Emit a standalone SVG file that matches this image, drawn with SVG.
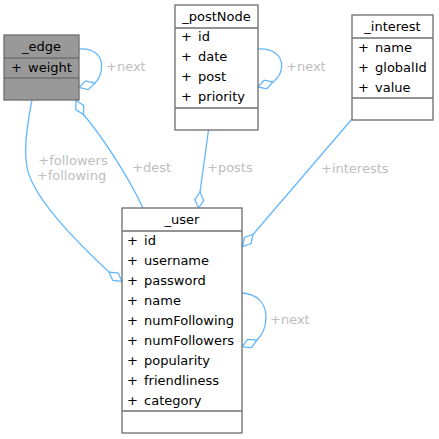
<svg xmlns="http://www.w3.org/2000/svg" width="439" height="439" viewBox="0 0 439 439">
<style>
text{font-family:"DejaVu Sans","Liberation Sans",sans-serif;font-size:13px;fill:#000}
.box{fill:#fff;stroke:#707070;stroke-width:1.33}
.cur{fill:#999}
.sep{stroke:#707070;stroke-width:1.33}
.t{text-anchor:middle}
.e{fill:none;stroke:#63b8ff;stroke-width:1.3}
.d{fill:#fff;stroke:#63b8ff;stroke-width:1.3}
.lbl{fill:#bebebe}
</style>
<rect width="439" height="439" fill="#fff"/>
<g id="connectors">
<path class="e" d="M79,49 C93,48 102,55 101.7,66 C101.5,74 99,79 95,83"/>
<polygon class="d" points="79,87.5 85.8,80.9 95,83 88.2,89.6"/>
<text class="lbl" x="106" y="71">+next</text>
<path class="e" d="M258,49 C272,48 282,55 281.7,66 C281.5,74 277,79 273,82"/>
<polygon class="d" points="258,87 264.1,80.2 273,82 266.9,88.8"/>
<text class="lbl" x="286" y="71">+next</text>
<path class="e" d="M242,293 C257,294 266,303 266,317 C266,327 262,335 257,340"/>
<polygon class="d" points="242,347 247.6,339.4 257,340 251.4,347.6"/>
<text class="lbl" x="270" y="324">+next</text>
<path class="e" d="M32,100 C24,140 23,165 32,182 C45,210 80,245 109,272"/>
<polygon class="d" points="122,281.5 118.2,273.1 109,272 112.8,280.4"/>
<text class="lbl t" x="73" y="165">+followers</text>
<text class="lbl t" x="71.5" y="180">+following</text>
<path class="e" d="M143,208 C130,180 105,140 83.5,114.5"/>
<polygon class="d" points="76,100.5 83.7,105.4 83.5,114.5 75.8,109.6"/>
<text class="lbl" x="132" y="172">+dest</text>
<path class="e" d="M208.5,130 L200,192"/>
<polygon class="d" points="198.5,208 194.8,199.6 200,192 203.7,200.4"/>
<text class="lbl" x="207" y="172">+posts</text>
<path class="e" d="M352,119 L253,234.5"/>
<polygon class="d" points="242.5,246.5 244.4,237.5 253,234.5 251.1,243.5"/>
<text class="lbl" x="321" y="172.5">+interests</text>
</g>
<g id="edge">
<rect class="box cur" x="4" y="35" width="75" height="65"/>
<line class="sep" x1="4" y1="58" x2="79" y2="58"/>
<line class="sep" x1="4" y1="78" x2="79" y2="78"/>
<text class="t" x="41.5" y="51">_edge</text>
<text x="11" y="72">+ <tspan dx="2">weight</tspan></text>
</g>
<g id="postNode">
<rect class="box" x="175" y="5" width="83" height="125"/>
<line class="sep" x1="175" y1="28" x2="258" y2="28"/>
<line class="sep" x1="175" y1="108" x2="258" y2="108"/>
<text class="t" x="216.5" y="21">_postNode</text>
<text x="181" y="41">+ <tspan dx="2">id</tspan></text>
<text x="181" y="61">+ <tspan dx="2">date</tspan></text>
<text x="181" y="81">+ <tspan dx="2">post</tspan></text>
<text x="181" y="101">+ <tspan dx="2">priority</tspan></text>
</g>
<g id="interest">
<rect class="box" x="352" y="15" width="81" height="105"/>
<line class="sep" x1="352" y1="38" x2="433" y2="38"/>
<line class="sep" x1="352" y1="98" x2="433" y2="98"/>
<text class="t" x="392.5" y="31">_interest</text>
<text x="358" y="52">+ <tspan dx="2">name</tspan></text>
<text x="358" y="72">+ <tspan dx="2">globalId</tspan></text>
<text x="358" y="92">+ <tspan dx="2">value</tspan></text>
</g>
<g id="user">
<rect class="box" x="122" y="208" width="120" height="225"/>
<line class="sep" x1="122" y1="231" x2="242" y2="231"/>
<line class="sep" x1="122" y1="411" x2="242" y2="411"/>
<text class="t" x="182" y="224">_user</text>
<text x="127" y="245">+ <tspan dx="2">id</tspan></text>
<text x="127" y="265">+ <tspan dx="2">username</tspan></text>
<text x="127" y="285">+ <tspan dx="2">password</tspan></text>
<text x="127" y="305">+ <tspan dx="2">name</tspan></text>
<text x="127" y="325">+ <tspan dx="2">numFollowing</tspan></text>
<text x="127" y="345">+ <tspan dx="2">numFollowers</tspan></text>
<text x="127" y="365">+ <tspan dx="2">popularity</tspan></text>
<text x="127" y="385">+ <tspan dx="2">friendliness</tspan></text>
<text x="127" y="405">+ <tspan dx="2">category</tspan></text>
</g>
</svg>
